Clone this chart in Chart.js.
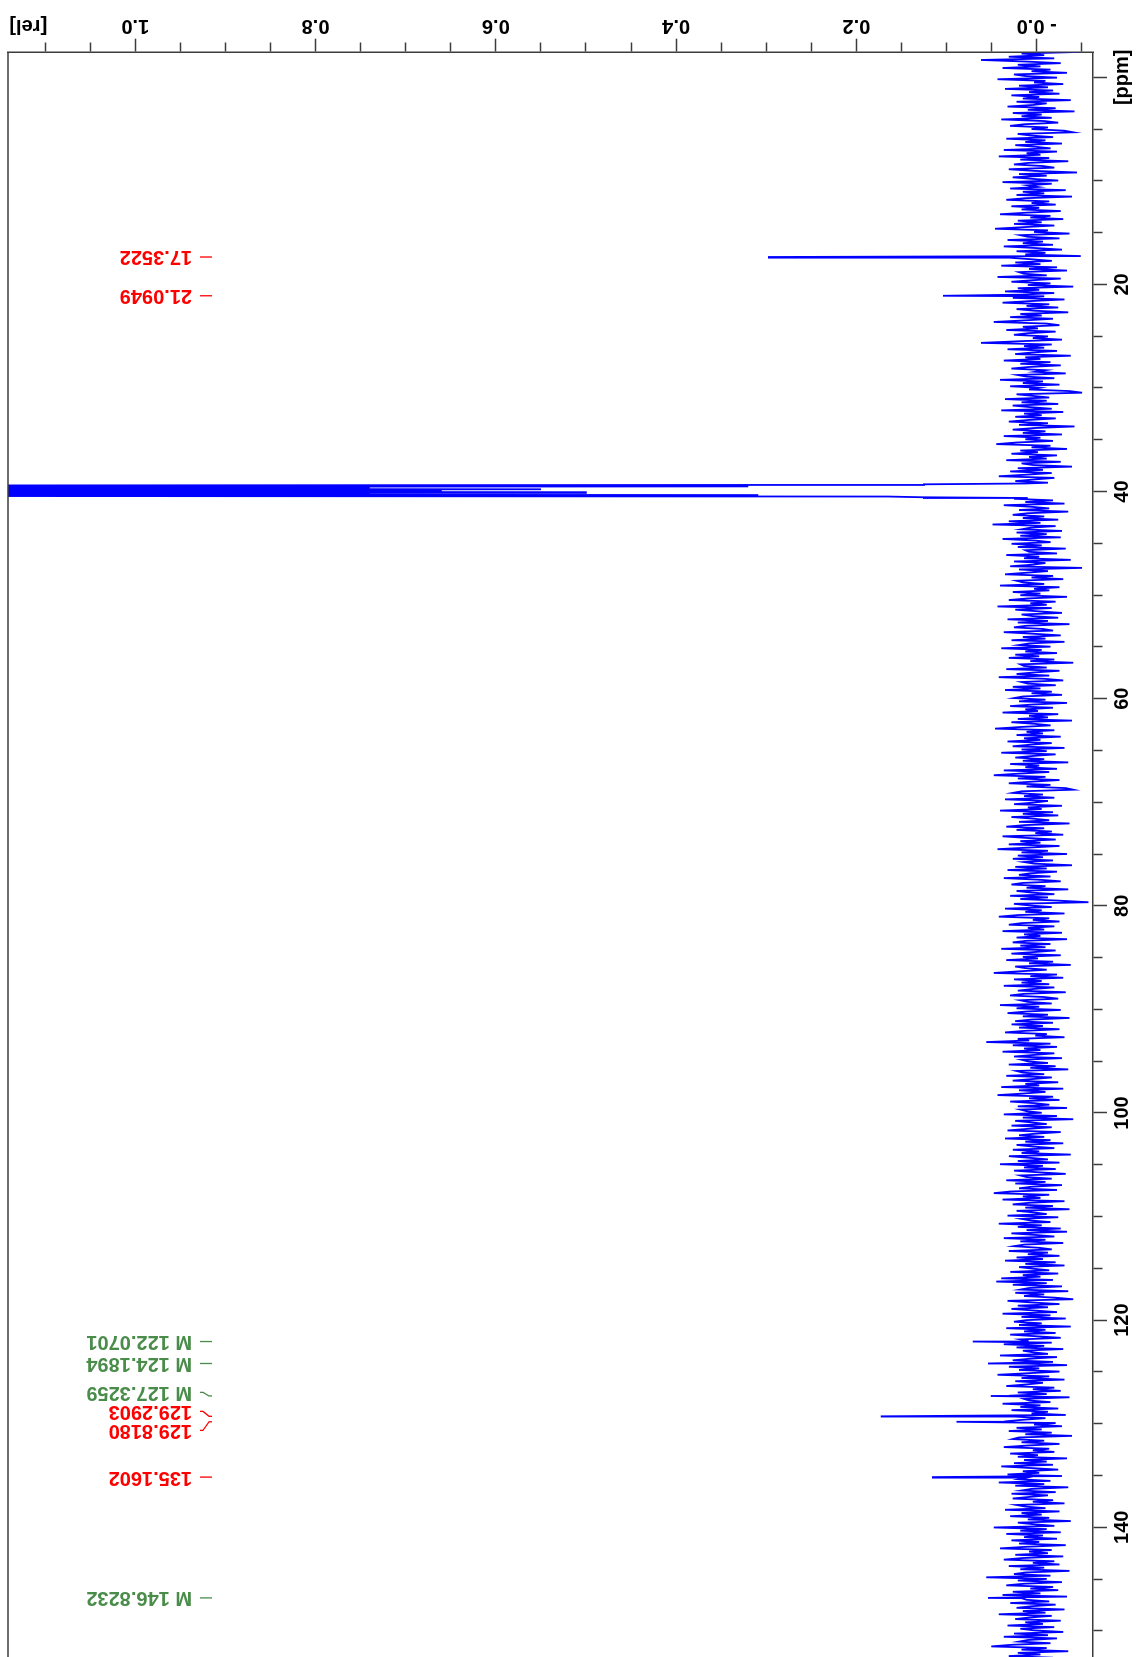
<!DOCTYPE html>
<html>
<head>
<meta charset="utf-8">
<script src="https://cdn.jsdelivr.net/npm/chart.js"></script>
<style>
  html, body { margin: 0; padding: 0; background: #fff; overflow: hidden; }
  #sheet { position: relative; width: 1139px; height: 1657px; overflow: hidden; background: #fff; }
  /* spectrum is laid out landscape, then turned a quarter turn counter-clockwise */
  #spec { position: absolute; left: 0; top: 0; width: 1657px; height: 1139px;
          transform-origin: 0 0; transform: translate(0, 1657px) rotate(-90deg); }
</style>
</head>
<body>
<div id="sheet"><canvas id="spec" width="1657" height="1139"></canvas></div>
<script>
// 13C spectrum: baseline noise in steps of noiseUnit [rel], evenly sampled from noiseStartPpm
const noiseStartPpm = -2.45;
const noiseStepPpm = 0.1552;
const noiseUnit = 0.0014;
const noise = [
  -34, 12, -6, 22, -14, 44, 8, -19, 15, -3, 27, -11, 4, -24, 18, 9, -16, 31, -7, 2, -21, 14, -9, 25, -13,
  6, -18, 20, -2, 11, -27, 16, -8, 3, 23, -15, 7, -30, 19, -4, 12, -12, 28, -6, -17, 10, 21, -9, 4, -22,
  -29, 15, 5, -13, 24, -7, 9, -20, 17, 1, -11, 26, -16, 8, -3, 30, -10, 13, -25, 6, 18, -5, -14, 22, 2,
  -32, 14, -8, 19, 3, -17, 27, -12, 7, -1, 21, -23, 11, -6, 16, -28, 9, 24, -10, 4, -15, 20, -2, 12, -19,
  8, 29, -11, 5, -21, 15, -4, 18, -14, 10, 33, -9, 2, -26, 13, 7, -18, 23, -5, 11, -13, 26, 1, -20, 16,
  -7, 9, -35, 22, 4, -12, 17, -3, 28, -16, 6, -24, 14, 10, -8, 31, -19, 3, 20, -11, 7, -29, 15, -2, 25,
  -14, 12, -6, 19, -22, 5, 27, -10, 8, -17, 16, 2, -25, 13, -4, 21, -13, 9, 34, -8, -18, 11, -1, 24, -15,
  7, 18, -9, 3, -20, 14, 44, -12, 10, -6, 23, -16, 4, 17, -27, 9, -3, 26, -11, 13, -19, 6, 20, -7, 1,
  -23, 15, 8, -14, 29, -5, 11, -18, 21, -2, 6, -26, -36, 16, 3, -10, 25, -8, 12, -17, 19, 5, -12, 28, -21,
  10, -4, 17, -15, 7, 22, -9, 14, -30, 2, 19, -7, 11, -20, 26, -3, 9, -13, 16, 32, -11, 4, -24, 13, -1,
  20, -16, 6, -8, 24, -19, 12, 3, -28, 15, -5, 21, -12, 8, 30, -14, 2, 17, -9, 9, -6, 14, -11, 4, 17,
  -8, 12, -3, 18, -13, 9, -22, 26, 4, -10, 14, -25, 7, 19, -6, 11, -17, 22, -3, 35, -15, 5, 12, -20, 16,
  -8, 13, -19, 27, 1, -11, 20, -4, 15, -23, 9, 6, -16, 24, -2, 10, -27, 18, -7, 3, 21, -36, 14, -9, 8,
  25, -13, 4, -21, 16, 11, -6, 29, -18, 2, -10, 19, -3, 13, -24, 7, 22, -15, 5, -8, 31, -12, 17, -1, -20,
  12, 3, -17, 23, -9, 15, -26, 8, 18, -5, -13, 26, 2, -19, 11, -7, 20, -22, 6, 14, -11, 28, -4, 9, -16,
  17, -2, 22, -14, 5, -29, 13, 10, -8, 24, -18, 1, 16, -10, 30, -6, -21, 12, 7, -15, 19, -3, 25, -12, 4,
  -20, 11, 18, -7, 14, -24, 3, 21, -13, 9, -1, 27, -17, 6, -9, 15, -28, 20, 2, -11, 13, 33, -14, 8, -5,
  16, -19, 10, -3, 23, -12, 5, 19, -22, 12, -8, 28, -15, 3, 17, -6, 11, -25, 21, -2, 9, -16, 26, -10, 14,
  34, -7, 15, -18, 4, 22, -11, 8, -23, -29, 12, 19, -5, 10, -14, 25, -9, 2, 18, -20, 7, -4, 29, -13, 11,
  -17, 20, 3, -10, 14, -26, 9, 24, -6, 16, -12, 1, -21, 27, 8, -15, 13, -3, 22, -18, 6, 31, -9, 12, -24,
  15, -5, 19, -13, 10, 2, -28, 17, -8, 23, -16, 5, 14, -11, 26, -2, -19, 11, 20, -7, 8, -25, 16, 4, -14,
  21, -9, 13, -17, -41, 18, 6, -12, 25, -4, 9, -22, 15, 30, -10, 3, -18, 12, 22, -14, 7, -6, 27, -20, 10,
  -3, 16, -24, 8, 19, -11, 13, -7, 28, -15, 2, 20, -19, 11, -1, 24, -13, 6, -27, 17, 9, -8, 14, 34, -16,
  5, -21, 18, -4, 12, -10, 26, -14, 3, 15, -23, 10, 21, -6, -17, 13, 7, -12, 29, -2, 16, -19, 8, 23, -9,
  11, -26, 4, 17, -13, 20, -5, 14, -18, 9, 25, -8, 1, -22, 15, 6, 40, -11, 19, -16, 10, -3, 27, -14, 2,
  18, -20, 12, 7, -9, 22, -15, 5, -25, 16, 11, -6, 24, -12, 3, 19, -17, 9, -2, 28, -21, 14, -7, 10, 31,
  -13, 6, -18, 21, 2, -10, 15, -24, 13, 8, -4, 26, -16, 11, -29, 17, 4, -8, 20, -12, 7, 23, -19, 1, 14,
  -6, 25, -11, 9, -21, 16, 3, -14, 19, -2, 12, -27, 22, 6, -9, 15, -18, 29, -5, 10, -15, 18, -1, -23, 13,
  8, -12, 24, -7, 17, -20, 4, 14, -16, 21, 34, -10, 11, -3, 27, -22, 6, 19, -13, 9, -26, 16, 2, -8, 23,
  -17, 12, 5, -11, 30, -4, 15, -19, 8, -24, 20, 1, -14, 26, -7, 13, -21, 10, 18, -2, -12, 22, -9, 7, -18,
  16, -5, 25, -15, 9, -22, 14, 3, -10, 21, -17, 11, -3, 28, -13, 32, -8, 19, -20, 6, 13, -25, 17, -6, 10,
  -14, -29, 23, 4, -18, 15, -9, 20, 2, -16, 27, -11, 12, -23, 8, 18, -4, 14, -27, 24, -7, 10, -15, 21, 1,
  -19, 13, 7, -12, 26, -6, 16, -21, 11, 3, -9, 29, -16, 5, 19, -13, 9, -24, 22, -2, 14, -18, 6, 31, -10,
  12, -22, 17, -5, 8, 24, -14, 3, -19, 15, -8, 21, -26, 10, 6, -11, 27, -3, 13, -17, 20, -9, 4, -23, 18,
  -7, 11, 25, -15, 2, -20, 16, -4, 22, -12, 9, -28, 14, 19, -6, 12, -18, 7, 26, -10, 3, -14, 21, -1, 15,
  -24, 10, -8, 18, -13, 28, 5, -17, 11, -2, 23, -20, 8, 14, -11, 30, -6, 17, -25, 4, 12, -15, 20, -9, 6,
  19, -13, 3, -22, 16, 9, -7, 25, -18, 12, -4, 21, -10, 7, -27, 15, 2, -14, 34, -8, 13, -19, 24, -5, 10,
  -16, 20, -2, 14, -23, 8, 29, -12, 6, -9, 17, -21, 11, 26, -14, 3, -18, 22, -6, 13, -26, 9, 18, -11, 40,
  -8, 15, -20, 10, 24, -13, 5, -17, 19, -3, 27, -24, 12, 8, -10, 21, -15, 4, 16, -22, 11, -7, 30, -12, 6,
  17, -19, 9, -5, 23, -14, 13, 2, -21, 18, -9, 26, -16, 7, 14, -11, 20, 36, -8, 12, -25, 15, -3, 22, -13
];

// DMSO-d6 solvent multiplet (lines and the dips between them)
const solventPpm = [39.22, 39.30, 39.36, 39.43, 39.50, 39.57, 39.64, 39.71, 39.78, 39.85, 39.92,
                    39.99, 40.06, 40.13, 40.20, 40.27, 40.34, 40.41, 40.48, 40.55, 40.62];
const solventRel = [0.012, 0.125, 0.30, 1.60, 0.32, 1.60, 0.74, 1.60, 0.55, 1.60, 0.66,
                    1.60, 0.50, 1.60, 0.74, 1.60, 0.31, 1.60, 0.165, 0.126, 0.010];

// picked peaks
const peakPpm = [17.3522, 21.0949, 122.0701, 124.1894, 127.3259, 129.2903, 129.8180, 135.1602, 146.8232];
const peakRel = [0.298, 0.104, 0.071, 0.054, 0.051, 0.173, 0.089, 0.116, 0.054];
const peakIsMultiplet = [false, false, true, true, true, false, false, false, true];

// axis ticks that carry text
const ppmLabelTicks = [0, 20, 40, 60, 80, 100, 120, 140];
const ppmLabelText = ['[ppm]', '20', '40', '60', '80', '100', '120', '140'];
const relLabelTicks = [0, 0.2, 0.4, 0.6, 0.8, 1.0];
const relLabelText = ['- 0.0', '0.2', '0.4', '0.6', '0.8', '1.0'];
const relUnitTick = 1.1;
const relUnitText = '[rel]';

// ---- assemble the trace ----
const trace = [];
const solventLo = solventPpm[0], solventHi = solventPpm[solventPpm.length - 1];
noise.forEach((v, i) => {
  const p = noiseStartPpm + i * noiseStepPpm;
  if (p > solventLo && p < solventHi) return;
  trace.push({ x: p, y: v * noiseUnit });
});
solventPpm.forEach((p, i) => trace.push({ x: p, y: solventRel[i] }));
peakPpm.forEach((p, i) => trace.push({ x: p, y: peakRel[i] }));
trace.sort((a, b) => a.x - b.x);

const AXIS = '#3c3c3c';
const FONT = { family: '"Liberation Sans", Arial, sans-serif', size: 20, weight: 'bold' };
const FONT_CSS = 'bold 20px "Liberation Sans", Arial, sans-serif';
const RED = '#ff0000';
const GREEN = '#4a8c4a';

const findIdx = (list, v) => list.findIndex(t => Math.abs(t - v) < 1e-6);

// spread crowded peak labels so they keep a minimum spacing
function spreadLabels(pos, gap) {
  const order = pos.map((p, i) => i).sort((a, b) => pos[a] - pos[b]);
  let groups = order.map(i => ({ items: [i], center: pos[i] }));
  let merged = true;
  while (merged) {
    merged = false;
    for (let k = 0; k < groups.length - 1; k++) {
      const a = groups[k], b = groups[k + 1];
      const aEnd = a.center + (a.items.length - 1) * gap / 2;
      const bStart = b.center - (b.items.length - 1) * gap / 2;
      if (bStart - aEnd < gap) {
        const items = a.items.concat(b.items);
        const center = items.reduce((s, i) => s + pos[i], 0) / items.length;
        groups.splice(k, 2, { items, center });
        merged = true;
        break;
      }
    }
  }
  const out = [];
  groups.forEach(g => g.items.forEach((i, j) => {
    out[i] = g.center + (j - (g.items.length - 1) / 2) * gap;
  }));
  return out;
}

const framePlugin = {
  id: 'frameAndPeaks',
  afterDraw(chart) {
    const { ctx, chartArea } = chart;
    const xs = chart.scales.x, ys = chart.scales.y;
    ctx.save();
    // upper frame edge
    ctx.strokeStyle = AXIS;
    ctx.lineWidth = 1.5;
    ctx.beginPath();
    ctx.moveTo(chartArea.left, chartArea.top);
    ctx.lineTo(chartArea.right, chartArea.top);
    ctx.stroke();

    // unit label of the intensity axis, starting at its tick
    ctx.font = FONT_CSS;
    ctx.fillStyle = '#000';
    ctx.textBaseline = 'middle';
    ctx.textAlign = 'left';
    ctx.save();
    ctx.translate(ys.left + 27.5, ys.getPixelForValue(relUnitTick) + 2);
    ctx.rotate(-Math.PI / 2);
    ctx.fillText(relUnitText, 0, 0);
    ctx.restore();

    // peak annotations
    const peakPx = peakPpm.map(p => xs.getPixelForValue(p));
    const labelPx = spreadLabels(peakPx, 19);
    const yText = chartArea.top + 184;
    const yTick0 = chartArea.top + 192;
    const yTick1 = chartArea.top + 204;
    peakPpm.forEach((p, i) => {
      const col = peakIsMultiplet[i] ? GREEN : RED;
      const txt = (peakIsMultiplet[i] ? 'M ' : '') + p.toFixed(4);
      ctx.strokeStyle = col;
      ctx.lineWidth = 1.3;
      ctx.beginPath();
      ctx.moveTo(labelPx[i], yTick0);
      ctx.lineTo(labelPx[i], yTick0 + 3);
      ctx.lineTo(peakPx[i], yTick1 - 3);
      ctx.lineTo(peakPx[i], yTick1);
      ctx.stroke();
      ctx.save();
      ctx.fillStyle = col;
      ctx.translate(labelPx[i], yText);
      ctx.rotate(-Math.PI / 2);
      ctx.textAlign = 'left';
      ctx.textBaseline = 'middle';
      ctx.fillText(txt, 0, 0);
      ctx.restore();
    });
    ctx.restore();
  }
};

new Chart(document.getElementById('spec'), {
  type: 'line',
  data: {
    datasets: [{
      data: trace,
      borderColor: '#0000ff',
      borderWidth: 1.8,
      pointRadius: 0,
      tension: 0,
      fill: false
    }]
  },
  options: {
    responsive: false,
    devicePixelRatio: 1,
    animation: false,
    events: [],
    layout: { autoPadding: false, padding: { top: 8, left: 0, right: 0, bottom: 0 } },
    plugins: { legend: { display: false }, tooltip: { enabled: false } },
    scales: {
      x: {
        type: 'linear',
        position: 'bottom',
        reverse: true,
        min: -2.375,
        max: 152.53,
        afterFit(s) { s.height = 46; },
        border: { display: true, color: AXIS, width: 1.5 },
        grid: {
          display: true,
          drawOnChartArea: false,
          drawTicks: true,
          tickLength: 14,
          tickWidth: 1.5,
          tickColor: AXIS,
          tickBorderDash: (c) => (c.tick && findIdx(ppmLabelTicks, c.tick.value) >= 0) ? [] : [9, 40]
        },
        ticks: {
          stepSize: 5,
          includeBounds: false,
          autoSkip: false,
          maxRotation: 0,
          minRotation: 0,
          padding: 3.5,
          color: '#000',
          font: FONT,
          callback: (v) => { const k = findIdx(ppmLabelTicks, v); return k >= 0 ? ppmLabelText[k] : ''; }
        }
      },
      y: {
        type: 'linear',
        position: 'right',
        min: -0.0625,
        max: 1.1412,
        afterFit(s) { s.width = 52.7; },
        border: { display: true, color: AXIS, width: 1.5 },
        grid: {
          display: true,
          drawOnChartArea: false,
          drawTicks: true,
          tickLength: 14,
          tickWidth: 1.5,
          tickColor: AXIS,
          tickBorderDash: (c) => (c.tick && findIdx(relLabelTicks, c.tick.value) >= 0) ? [] : [9, 40]
        },
        ticks: {
          stepSize: 0.05,
          includeBounds: false,
          autoSkip: false,
          minRotation: 90,
          maxRotation: 90,
          crossAlign: 'center',
          padding: -7,
          color: '#000',
          font: FONT,
          callback: (v) => { const k = findIdx(relLabelTicks, v); return k >= 0 ? relLabelText[k] : ''; }
        }
      }
    }
  },
  plugins: [framePlugin]
});
</script>
</body>
</html>
